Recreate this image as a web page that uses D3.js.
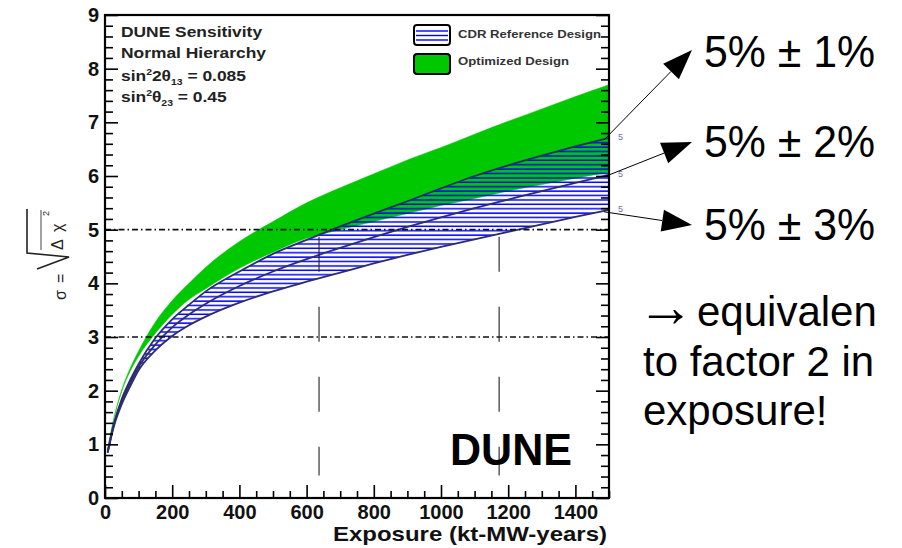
<!DOCTYPE html>
<html>
<head>
<meta charset="utf-8">
<script src="https://cdn.jsdelivr.net/npm/d3@7"></script>
<style>
  html, body { margin: 0; padding: 0; background: #fff; }
  svg { display: block; }
  text { font-family: "Liberation Sans", Arial, Helvetica, sans-serif; }
</style>
</head>
<body>
<svg id="chart" width="902" height="548"></svg>
<script>
// ---------------- data ----------------
const exposure    = [8, 25, 50, 75, 100, 150, 200, 250, 300, 400, 500, 600, 700, 800, 900, 1000, 1100, 1200, 1300, 1400, 1500];
const optTop      = [0.92, 1.45, 2.02, 2.42, 2.74, 3.28, 3.68, 4.00, 4.30, 4.78, 5.15, 5.50, 5.78, 6.04, 6.30, 6.53, 6.78, 7.02, 7.25, 7.48, 7.70];
const optBottom   = [0.90, 1.43, 1.99, 2.36, 2.64, 3.07, 3.42, 3.70, 3.90, 4.28, 4.58, 4.84, 5.00, 5.15, 5.30, 5.45, 5.58, 5.72, 5.84, 5.96, 6.07];
const cdrTop      = [0.86, 1.35, 1.85, 2.20, 2.50, 2.98, 3.33, 3.60, 3.85, 4.22, 4.55, 4.81, 5.06, 5.30, 5.53, 5.77, 6.00, 6.20, 6.38, 6.55, 6.71];
const cdrMid      = [0.85, 1.33, 1.80, 2.14, 2.44, 2.86, 3.18, 3.42, 3.62, 3.95, 4.22, 4.45, 4.66, 4.86, 5.05, 5.23, 5.40, 5.56, 5.72, 5.87, 6.02];
const cdrBottom   = [0.84, 1.30, 1.75, 2.08, 2.38, 2.75, 3.02, 3.22, 3.38, 3.64, 3.85, 4.03, 4.20, 4.37, 4.53, 4.68, 4.82, 4.96, 5.10, 5.24, 5.37];

const xMajorTicks = [0, 200, 400, 600, 800, 1000, 1200, 1400];
const yMajorTicks = [0, 1, 2, 3, 4, 5, 6, 7, 8, 9];
const sigmaLines  = [3, 5];
const markerExposures = [637, 1173];
const markerRange = [0.42, 4.87];

const legendLabels = ["CDR Reference Design", "Optimized Design"];
const infoLines = ["DUNE Sensitivity", "Normal Hierarchy"];
const annotLabels = ["5% \u00B1 1%", "5% \u00B1 2%", "5% \u00B1 3%"];
const noteArrow = "\u2192";
const noteLines = ["equivalent", "to factor 2 in", "exposure!"];
const xTitle = "Exposure (kt-MW-years)";

// ---------------- setup ----------------
const svg = d3.select("#chart");
const x = d3.scaleLinear().domain([0, 1500]).range([105, 609]);
const y = d3.scaleLinear().domain([0, 9]).range([498, 15]);
const rows = exposure.map((e, i) => ({e, ot: optTop[i], ob: optBottom[i], ct: cdrTop[i], cm: cdrMid[i], cb: cdrBottom[i]}));

const defs = svg.append("defs");
const pat = defs.append("pattern").attr("id", "hatch").attr("patternUnits", "userSpaceOnUse")
  .attr("width", 20).attr("height", 4.4);
pat.append("rect").attr("x", 0).attr("y", 1.2).attr("width", 20).attr("height", 1.5).attr("fill", "#0000ff");

defs.append("clipPath").attr("id", "noteClip").append("rect")
  .attr("x", 620).attr("y", 270).attr("width", 257).attr("height", 200);

// ---------------- bands ----------------
const green = "#00c800";
svg.append("path").datum(rows)
  .attr("fill", green)
  .attr("stroke", green).attr("stroke-width", 0.8).attr("stroke-opacity", 0.6)
  .attr("d", d3.area().x(d => x(d.e)).y0(d => y(d.ob)).y1(d => y(d.ot)).curve(d3.curveMonotoneX));

svg.append("path").datum(rows)
  .attr("fill", "url(#hatch)")
  .attr("d", d3.area().x(d => x(d.e)).y0(d => y(d.cb)).y1(d => y(d.ct)).curve(d3.curveMonotoneX));

["ct", "cm", "cb"].forEach(k => {
  svg.append("path").datum(rows)
    .attr("fill", "none").attr("stroke", "#2c2c6e").attr("stroke-width", 1.8)
    .attr("d", d3.line().x(d => x(d.e)).y(d => y(d[k])).curve(d3.curveMonotoneX));
});

// ---------------- reference lines ----------------
svg.selectAll(".sig").data(sigmaLines).join("line")
  .attr("x1", x(0)).attr("x2", x(1500))
  .attr("y1", d => y(d)).attr("y2", d => y(d))
  .attr("stroke", "#111").attr("stroke-width", 1.6)
  .attr("stroke-dasharray", "6,3,1.5,3");

svg.selectAll(".mk").data(markerExposures).join("line")
  .attr("x1", d => x(d)).attr("x2", d => x(d))
  .attr("y1", y(markerRange[1])).attr("y2", y(markerRange[0]))
  .attr("stroke", "#222").attr("stroke-width", 1.1)
  .attr("stroke-dasharray", "35,35");

// ---------------- axes ----------------
const fontTick = g => g.selectAll("text")
  .attr("font-family", "'Liberation Sans', Arial, sans-serif")
  .attr("font-weight", "bold").attr("font-size", 20).attr("fill", "#111");

const yMinor = d3.range(0, 9.001, 0.2).filter(v => Math.abs(v - Math.round(v)) > 1e-6);
const xMinor = d3.range(0, 1500.1, 50).filter(v => v % 200 !== 0);

// left
svg.append("g").attr("transform", `translate(${x(0)},0)`)
  .call(d3.axisLeft(y).tickValues(yMajorTicks).tickSizeInner(-13).tickSizeOuter(0).tickPadding(6).tickFormat(d3.format("d")))
  .call(g => g.select(".domain").remove())
  .call(g => g.selectAll("line").attr("stroke", "#000").attr("stroke-width", 1.6))
  .call(fontTick);
svg.append("g").attr("transform", `translate(${x(0)},0)`)
  .call(d3.axisLeft(y).tickValues(yMinor).tickSizeInner(-8).tickSizeOuter(0).tickFormat(""))
  .call(g => g.select(".domain").remove())
  .call(g => g.selectAll("line").attr("stroke", "#000").attr("stroke-width", 1.6));
// right
svg.append("g").attr("transform", `translate(${x(1500)},0)`)
  .call(d3.axisRight(y).tickValues(yMajorTicks).tickSizeInner(-13).tickSizeOuter(0).tickFormat(""))
  .call(g => g.select(".domain").remove())
  .call(g => g.selectAll("line").attr("stroke", "#000").attr("stroke-width", 1.6));
svg.append("g").attr("transform", `translate(${x(1500)},0)`)
  .call(d3.axisRight(y).tickValues(yMinor).tickSizeInner(-8).tickSizeOuter(0).tickFormat(""))
  .call(g => g.select(".domain").remove())
  .call(g => g.selectAll("line").attr("stroke", "#000").attr("stroke-width", 1.6));
// bottom
svg.append("g").attr("transform", `translate(0,${y(0)})`)
  .call(d3.axisBottom(x).tickValues(xMajorTicks).tickSizeInner(-13).tickSizeOuter(0).tickPadding(7).tickFormat(d3.format("d")))
  .call(g => g.select(".domain").remove())
  .call(g => g.selectAll("line").attr("stroke", "#000").attr("stroke-width", 1.6))
  .call(fontTick);
svg.append("g").attr("transform", `translate(0,${y(0)})`)
  .call(d3.axisBottom(x).tickValues(xMinor).tickSizeInner(-7).tickSizeOuter(0).tickFormat(""))
  .call(g => g.select(".domain").remove())
  .call(g => g.selectAll("line").attr("stroke", "#000").attr("stroke-width", 1.6));

// frame
svg.append("rect")
  .attr("x", x(0)).attr("y", y(9)).attr("width", x(1500) - x(0)).attr("height", y(0) - y(9))
  .attr("fill", "none").attr("stroke", "#000").attr("stroke-width", 2.2);

// x title
svg.append("text").attr("x", 607).attr("y", 541).attr("text-anchor", "end")
  .attr("font-weight", "bold").attr("font-size", 21).attr("fill", "#111")
  .attr("textLength", 274).attr("lengthAdjust", "spacingAndGlyphs")
  .text(xTitle);

// y title: sigma = sqrt(Delta chi^2), rotated
const yt = svg.append("g").attr("transform", "translate(66,300) rotate(-90)").attr("fill", "#222");
yt.append("text").attr("x", 0).attr("y", 0).attr("font-size", 16).text("\u03C3");
yt.append("text").attr("x", 17).attr("y", 0).attr("font-size", 16).text("=");
yt.append("path").attr("d", "M31,-29 L43,3 L47,-39 L91,-39")
  .attr("fill", "none").attr("stroke", "#222").attr("stroke-width", 1.6);
yt.append("line").attr("x1", 50).attr("x2", 90).attr("y1", -25).attr("y2", -25)
  .attr("stroke", "#444").attr("stroke-width", 1);
yt.append("text").attr("x", 50).attr("y", -3).attr("font-size", 16).text("\u0394");
yt.append("text").attr("x", 68).attr("y", -3).attr("font-size", 16).text("\u03C7");
yt.append("text").attr("x", 84).attr("y", -17).attr("font-size", 9).text("2");

// ---------------- info text (top-left) ----------------
const info = svg.append("g").attr("transform", "translate(121,0) scale(1.16,1)")
  .attr("font-weight", "bold").attr("font-size", 15).attr("fill", "#222");
info.append("text").attr("x", 0).attr("y", 37).text(infoLines[0]);
info.append("text").attr("x", 0).attr("y", 58).text(infoLines[1]);
const s1 = info.append("text").attr("x", 0).attr("y", 81);
s1.append("tspan").text("sin");
s1.append("tspan").attr("font-size", 9).attr("dy", -6).text("2");
s1.append("tspan").attr("dy", 6).text("2\u03B8");
s1.append("tspan").attr("font-size", 9).attr("dy", 4).text("13");
s1.append("tspan").attr("dy", -4).text(" = 0.085");
const s2 = info.append("text").attr("x", 0).attr("y", 102);
s2.append("tspan").text("sin");
s2.append("tspan").attr("font-size", 9).attr("dy", -6).text("2");
s2.append("tspan").attr("dy", 6).text("\u03B8");
s2.append("tspan").attr("font-size", 9).attr("dy", 4).text("23");
s2.append("tspan").attr("dy", -4).text(" = 0.45");

// ---------------- legend ----------------
const lg = svg.append("g");
lg.append("rect").attr("x", 414).attr("y", 25).attr("width", 36).attr("height", 20).attr("rx", 3)
  .attr("fill", "#fff").attr("stroke", "#000").attr("stroke-width", 2);
[31, 35.5, 40].forEach(yy => lg.append("line").attr("x1", 416).attr("x2", 448).attr("y1", yy).attr("y2", yy)
  .attr("stroke", "#0000ff").attr("stroke-width", 1.4));
lg.append("rect").attr("x", 414).attr("y", 54).attr("width", 36).attr("height", 20).attr("rx", 3)
  .attr("fill", green).attr("stroke", "#000").attr("stroke-width", 2);
lg.append("text").attr("x", 458).attr("y", 38).attr("font-weight", "bold").attr("font-size", 11).attr("fill", "#333")
  .attr("textLength", 143).attr("lengthAdjust", "spacingAndGlyphs").text(legendLabels[0]);
lg.append("text").attr("x", 458).attr("y", 65).attr("font-weight", "bold").attr("font-size", 11).attr("fill", "#333")
  .attr("textLength", 111).attr("lengthAdjust", "spacingAndGlyphs").text(legendLabels[1]);

// DUNE logo text
svg.append("text").attr("x", 450).attr("y", 465).attr("font-weight", "bold").attr("font-size", 44)
  .attr("fill", "#000").attr("textLength", 122).attr("lengthAdjust", "spacingAndGlyphs").text("DUNE");

// ---------------- annotations ----------------
const ends = [cdrTop, cdrMid, cdrBottom].map(a => a[a.length - 1]);
svg.selectAll(".five").data(ends).join("text")
  .attr("x", x(1500) + 9).attr("y", d => y(d) + 2)
  .attr("font-size", 9).attr("fill", "#6c6ca8").text("5");

const tips = [[692, 50], [692, 142], [692, 225]];
const labelBaselines = [67, 157, 240];
ends.forEach((v, i) => {
  const x0 = x(1500) - 5, y0 = y(v) + 2;
  const [tx, ty] = tips[i];
  const dx = tx - x0, dy = ty - y0, L = Math.hypot(dx, dy);
  const ux = dx / L, uy = dy / L;
  const hl = 30, hw = 11;
  const bx = tx - ux * hl, by = ty - uy * hl;
  svg.append("line").attr("x1", x0).attr("y1", y0).attr("x2", bx).attr("y2", by)
    .attr("stroke", "#000").attr("stroke-width", 1);
  svg.append("path")
    .attr("d", `M${tx},${ty} L${bx - uy * hw},${by + ux * hw} L${bx + uy * hw},${by - ux * hw} Z`)
    .attr("fill", "#000");
  svg.append("text").attr("x", 704).attr("y", labelBaselines[i]).attr("font-size", 43.5)
    .attr("fill", "#000").attr("textLength", 171).attr("lengthAdjust", "spacingAndGlyphs")
    .text(annotLabels[i]);
});

const notes = svg.append("g").attr("clip-path", "url(#noteClip)").attr("font-size", 42).attr("fill", "#000");
notes.append("text").attr("x", 637).attr("y", 326).attr("font-size", 57).text(noteArrow);
notes.append("text").attr("x", 697).attr("y", 326).text(noteLines[0]);
notes.append("text").attr("x", 643).attr("y", 376).text(noteLines[1]);
notes.append("text").attr("x", 643).attr("y", 425).text(noteLines[2]);
</script>
</body>
</html>
